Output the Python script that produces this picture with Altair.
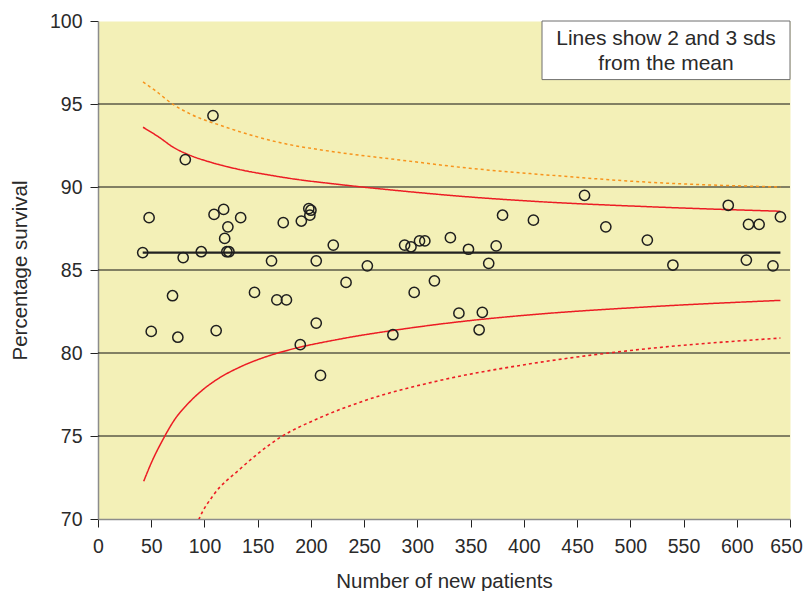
import altair as alt
import pandas as pd

# ---- data ----
pt_n = [108, 82, 48, 109, 118, 134, 122, 174, 119, 42, 121, 123, 97, 80, 163, 70, 147, 168, 177, 50, 75, 111,
        191, 198, 200, 199, 221, 205, 253, 233, 205, 190, 209, 277, 288, 294, 302, 307, 331, 348, 374, 380,
        367, 297, 316, 339, 361, 358,
        409, 457, 477, 516, 540, 592, 609, 611, 621, 634, 641]
pt_v = [94.3, 91.65, 88.15, 88.35, 88.65, 88.15, 87.6, 87.85, 86.9, 86.05, 86.1, 86.1, 86.1, 85.75, 85.55,
        83.45, 83.65, 83.2, 83.2, 81.3, 80.95, 81.35,
        87.95, 88.7, 88.6, 88.3, 86.5, 85.55, 85.25, 84.25, 81.8, 80.5, 78.65, 81.1, 86.5, 86.4, 86.75, 86.75,
        86.95, 86.25, 86.45, 88.3, 85.4, 83.65, 84.35, 82.4, 82.45, 81.4,
        88.0, 89.5, 87.6, 86.8, 85.3, 88.9, 85.6, 87.75, 87.75, 85.25, 88.2]

mean_n = [42, 641]
mean_v = [86.05, 86.05]

up2_n = [42.3, 58, 70.5, 83, 108, 133, 161, 180, 224, 287, 349, 406, 522, 641]
up2_v = [93.6, 92.97, 92.4, 92.0, 91.45, 91.05, 90.72, 90.52, 90.17, 89.75, 89.4, 89.15, 88.8, 88.54]

up3_n = [42.3, 53.3, 70.5, 86, 117.5, 180, 208, 287, 349, 406, 522, 641]
up3_v = [96.33, 95.83, 94.98, 94.42, 93.66, 92.55, 92.25, 91.6, 91.13, 90.81, 90.27, 90.0]

lo2_n = [42.9, 50.2, 61.1, 72.1, 83.1, 98.7, 112.8, 133.2, 161.4, 180.2, 224, 287, 349, 406, 522, 641]
lo2_v = [72.27, 73.4, 74.8, 76.0, 76.85, 77.8, 78.45, 79.15, 79.85, 80.2, 80.8, 81.45, 81.95, 82.3, 82.8, 83.17]

lo3_n = [92.5, 95.6, 108, 133.2, 170.8, 208.4, 249, 318, 406, 500, 641]
lo3_v = [69.62, 70.1, 71.4, 73.0, 74.9, 76.1, 77.1, 78.3, 79.35, 80.15, 80.9]

grid_v = [75, 80, 85, 90, 95]
x_ticks = [0, 50, 100, 150, 200, 250, 300, 350, 400, 450, 500, 550, 600, 650]
y_ticks = [70, 75, 80, 85, 90, 95, 100]
note_lines = ["Lines show 2 and 3 sds", "from the mean"]

series_names = ["up2", "lo2", "up3", "lo3"]
series_colors = ["#ec1c24", "#ec1c24", "#f7941d", "#ec1c24"]
series_dash = [[1, 0], [1, 0], [3, 3], [3, 3]]

# ---- tables ----
pts = pd.DataFrame({"n": pt_n, "v": pt_v})
mean_df = pd.DataFrame({"n": mean_n, "v": mean_v})
rows = []
for name, ns, vs in [("up2", up2_n, up2_v), ("lo2", lo2_n, lo2_v), ("up3", up3_n, up3_v)]:
    for a, b in zip(ns, vs):
        rows.append({"series": name, "n": a, "v": b})
curves = pd.DataFrame(rows)
lo3_df = pd.DataFrame({"series": "lo3", "n": lo3_n, "v": lo3_v})
grid_df = pd.DataFrame({"v": grid_v})
dummy = pd.DataFrame({"k": [0]})

FONT = "Liberation Sans"
TXT = "#2a2a2a"

x_enc = alt.X("n:Q", title="Number of new patients",
              scale=alt.Scale(domain=[0, 650], nice=False, zero=False),
              axis=alt.Axis(values=x_ticks, labelPadding=10, titleY=68,
                            titleBaseline="alphabetic", labelFlush=False,
                            labelOverlap=False,
                            labelOffset={"condition": {"test": "datum.value >= 650", "value": -4},
                                         "value": 0}))
y_enc = alt.Y("v:Q", title="Percentage survival",
              scale=alt.Scale(domain=[70, 100], nice=False, zero=False),
              axis=alt.Axis(values=y_ticks, labelPadding=8, titleX=-78, titleY=249,
                            titleAngle=270, titleBaseline="middle", titleAlign="center",
                            labelOverlap=False))

color_enc = alt.Color("series:N", scale=alt.Scale(domain=series_names, range=series_colors), legend=None)
dash_enc = alt.StrokeDash("series:N", scale=alt.Scale(domain=series_names, range=series_dash), legend=None)

grid = alt.Chart(grid_df).mark_rule(color="#111111", strokeWidth=1).encode(y=y_enc)

mean_line = alt.Chart(mean_df).mark_line(color="#222222", strokeWidth=2.2).encode(x=x_enc, y=y_enc)

lines = alt.Chart(curves).mark_line(strokeWidth=1.5, interpolate="monotone").encode(
    x=x_enc, y=y_enc, color=color_enc, strokeDash=dash_enc)

lo3_line = alt.Chart(lo3_df).mark_line(strokeWidth=1.6, interpolate="monotone", clip=True).encode(
    x=x_enc, y=y_enc, color=color_enc, strokeDash=dash_enc)

points = alt.Chart(pts).mark_point(shape="circle", filled=False, size=105, strokeWidth=1.5,
                                   color="#1e1e1e", opacity=1).encode(x=x_enc, y=y_enc)

box = alt.Chart(dummy).mark_rect(fill="white", stroke="#6e6e6e", strokeWidth=1).encode(
    x=alt.value(444), x2=alt.value(692), y=alt.value(0), y2=alt.value(58.6))

note1 = alt.Chart(dummy).mark_text(font=FONT, fontSize=21, color=TXT, align="center",
                                   baseline="alphabetic").encode(
    x=alt.value(568), y=alt.value(24.3), text=alt.value(note_lines[0]))
note2 = alt.Chart(dummy).mark_text(font=FONT, fontSize=21, color=TXT, align="center",
                                   baseline="alphabetic").encode(
    x=alt.value(568), y=alt.value(48.6), text=alt.value(note_lines[1]))

chart = alt.layer(grid, mean_line, lines, lo3_line, points, box, note1, note2).properties(
    width=692, height=498,
    padding={"left": 90, "top": 13, "right": 14, "bottom": 74},
    autosize=alt.AutoSizeParams(type="none"),
    background="white",
).configure_view(
    fill="#f3f0b7", stroke="transparent"
).configure_axis(
    grid=False,
    domainColor="#8c8c8c", domainWidth=1.5,
    tickColor="#222222", tickWidth=1, tickSize=8,
    labelFont=FONT, labelFontSize=19.5, labelColor=TXT,
    titleFont=FONT, titleFontSize=20.5, titleFontWeight="normal", titleColor=TXT,
)

chart.save("out.html", embed_options={"renderer": "svg", "actions": False})
